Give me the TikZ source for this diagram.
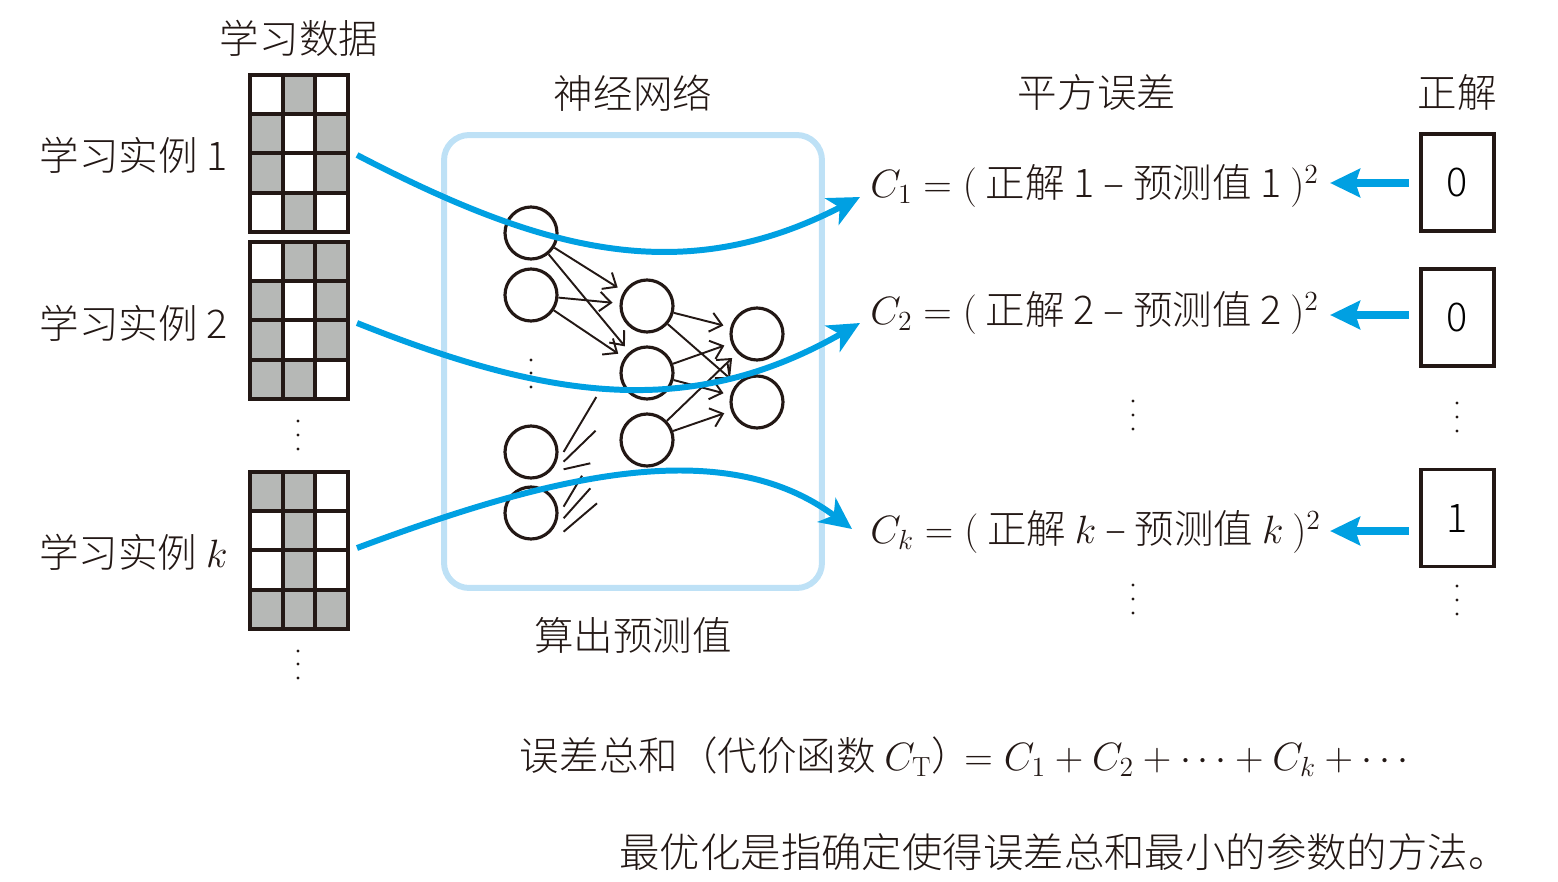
\documentclass[tikz,border=0pt]{standalone}
\usepackage{fix-cm}
\usepackage{fontspec}
\newfontfamily\cjk{Noto Sans CJK SC Light}
\usetikzlibrary{arrows.meta,positioning}
\definecolor{flowblue}{RGB}{0,160,226}
\definecolor{boxblue}{RGB}{190,225,246}
\definecolor{cellgray}{RGB}{182,184,182}
\definecolor{ink}{RGB}{35,24,21}

\begin{document}
\begin{tikzpicture}[
            x=0.02cm, y=-0.02cm,
            lbl/.style={font=\cjk\fontsize{22.5}{26}\selectfont, inner sep=0pt, text=ink},
            cell/.style={draw=ink, line width=2.3pt},
            neuron/.style={draw=ink, circle, line width=1.8pt, minimum size=1.04cm, inner sep=0pt},
            syn/.style={draw=ink, line width=1.1pt},
            flow/.style={draw=flowblue, line width=3.4pt, -{Stealth[length=18pt,width=17pt,inset=5pt]}},
            back/.style={draw=flowblue, line width=4.5pt, -{Stealth[length=17pt,width=16pt,inset=2.5pt]}},
            ans/.style={draw=ink, line width=2pt, rectangle, minimum width=1.46cm, minimum height=1.94cm, font=\cjk\fontsize{22.5}{26}\selectfont},
            netbox/.style={draw=boxblue, line width=3.4pt, rounded corners=0.5cm, minimum width=7.56cm, minimum height=9.06cm},
            vdot/.style={fill=ink}
        ]

        \useasboundingbox (0,0) rectangle (1558,882);

        % learning data
        \node[lbl] (data) at (299,38) {学习数据};
        \foreach \top/\cells in {75/{0,1,0,1,0,1,1,0,1,0,1,0}, 242/{0,1,1,1,0,1,1,0,1,1,1,0}, 472/{1,1,0,0,1,0,0,1,0,1,1,1}} {
            \foreach \v [count=\i from 0] in \cells {
                \pgfmathtruncatemacro\row{\i/3}
                \pgfmathtruncatemacro\col{mod(\i,3)}
                \ifnum\v=1 \def\clr{cellgray}\else\def\clr{white}\fi
                \draw[cell,fill=\clr] ({250+\col*32.7},{\top+\row*39.2}) rectangle ++(32.7,39.2);
            }
        }
        \node[lbl,anchor=east] (inst1) at (228,155) {学习实例 1};
        \node[lbl,anchor=east] (inst2) at (228,323) {学习实例 2};
        \node[lbl,anchor=east] (instk) at (228,552) {学习实例 $k$};
        \foreach \y in {421,435,449,651,664,678}
            \fill[vdot] (298,\y) circle (0.9pt);

        % neural network
        \node[netbox] (net) at (633,361.5) {};
        \node[lbl,above=0.4cm of net] (nettitle) {神经网络};
        \node[lbl,below=0.52cm of net] (pred) {算出预测值};

        \node[neuron] (in1) at (531,233) {};
        \node[neuron] (in2) at (531,295) {};
        \node[neuron] (in3) at (531,452) {};
        \node[neuron] (in4) at (531,513) {};
        \node[neuron] (h1) at (647,306) {};
        \node[neuron] (h2) at (647,373) {};
        \node[neuron] (h3) at (647,440) {};
        \node[neuron] (o1) at (757,334) {};
        \node[neuron] (o2) at (757,402) {};
        \foreach \y in {360,373,387}
            \fill[vdot] (531,\y) circle (0.9pt);

        \draw[syn,-{Straight Barb[length=6.5pt,width=11pt]},shorten >=4pt]
            (in1) edge (h1)
            (in1) edge (h2)
            (in2) edge (h1)
            (in2) edge (h2)
            (h1) edge (o1)
            (h1) edge (o2)
            (h2) edge (o1)
            (h2) edge (o2)
            (h3) edge (o1)
            (h3) edge (o2)
        ;
        \foreach \dy/\dx/\ey in {0/32.7/-55, 9.7/32/-31, 17.3/26.7/-6}
            \draw[syn] ([shift={(32.6,\dy)}]in3.center) -- ++(\dx,\ey);
        \foreach \dy/\dx/\ey in {-6.3/18.4/-31, 5.3/26.7/-30, 18.7/33.4/-28.4}
            \draw[syn] ([shift={(32.6,\dy)}]in4.center) -- ++(\dx,\ey);

        % squared errors
        \node[lbl] (sqerr) at (1097,92) {平方误差};
        \node[lbl,anchor=west] (c1) at (870,186) {$C_1 = ($\ 正解 1 – 预测值 1\ $)^2$};
        \node[lbl,anchor=west] (c2) at (870,313) {$C_2 = ($\ 正解 2 – 预测值 2\ $)^2$};
        \node[lbl,anchor=west] (ck) at (870,532) {$C_k = ($\ 正解 $k$ – 预测值 $k$\ $)^2$};
        \foreach \y in {401,415,429,585,599,613}
            \fill[vdot] (1133,\y) circle (0.9pt);

        % correct answers
        \node[ans] (t1) at (1457.5,182.5) {0};
        \node[ans] (t2) at (1457.5,317.5) {0};
        \node[ans] (tk) at (1457.5,518) {1};
        \node[lbl,above=0.42cm of t1] (answer) {正解};
        \foreach \y in {403,417,431,586,600,614}
            \fill[vdot] (1457,\y) circle (0.9pt);

        \coordinate (e1) at (1330,183);
        \coordinate (e2) at (1330,315);
        \coordinate (ek) at (1330,531);
        \draw[back,shorten <=6pt] (t1.west |- e1) -- (e1);
        \draw[back,shorten <=6pt] (t2.west |- e2) -- (e2);
        \draw[back,shorten <=6pt] (tk.west |- ek) -- (ek);

        % data flow
        \coordinate (s1) at (357,155);
        \coordinate (s2) at (357,323);
        \coordinate (sk) at (357,548);
        \coordinate (f1) at (860,197);
        \coordinate (f2) at (860,323);
        \coordinate (fk) at (852,529);
        \draw[flow] (s1) .. controls (540,250) and (680,290) .. (f1);
        \draw[flow] (s2) .. controls (550,400) and (690,420) .. (f2);
        \draw[flow] (sk) .. controls (540,480) and (720,430) .. (fk);

        % cost function
        \node[lbl] (total) at (964,757) {误差总和（代价函数 $C_{\mathrm{T}}$）$\!= C_1 + C_2 + \cdots + C_k + \cdots$};
        \node[lbl,font=\cjk\fontsize{23}{27}\selectfont] (note) at (1064,852) {最优化是指确定使得误差总和最小的参数的方法。};

\end{tikzpicture}
\end{document}
